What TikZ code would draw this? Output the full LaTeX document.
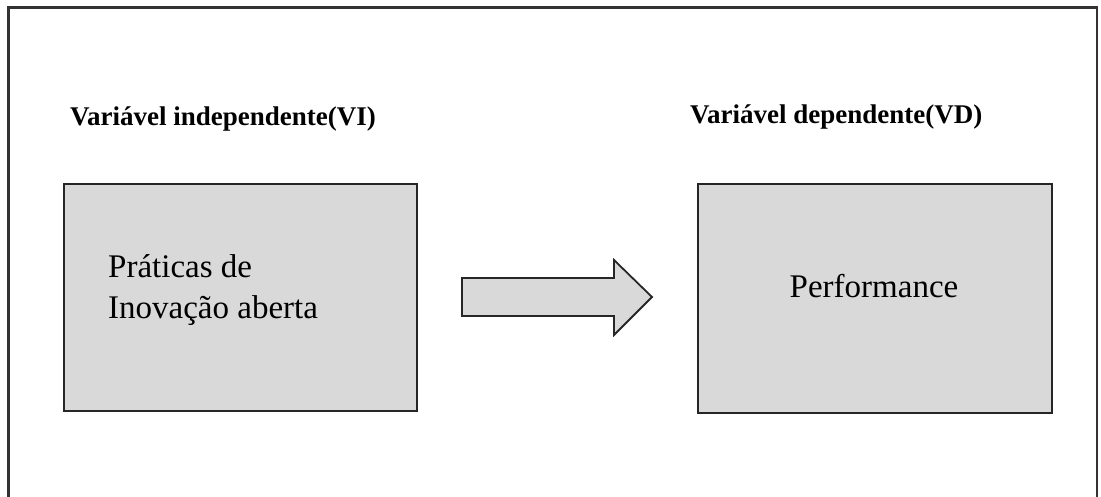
\documentclass[tikz,border=0pt]{standalone}
\usepackage{fontspec}
\setmainfont{Liberation Serif}
\begin{document}
\begin{tikzpicture}[x=1pt,y=-1pt,
  boxstyle/.style={draw=black!85,line width=2.2pt,fill=gray!30,minimum width=353pt,minimum height=227pt,inner sep=0pt,anchor=north west},
  headstyle/.style={font=\fontsize{27}{32}\selectfont\bfseries,anchor=base west,inner sep=0pt},
  bodystyle/.style={font=\fontsize{33}{40}\selectfont,inner sep=0pt}]
\useasboundingbox (0,0) rectangle (1101,497);
\draw[black!80,line width=2.2pt] (8.5,520) -- (8.5,7.5) -- (1097,7.5) -- (1097,520);
\node[headstyle] (vi) at (70,126) {Variável independente(VI)};
\node[headstyle] (vd) at (690,124) {Variável dependente(VD)};
\node[boxstyle] (left) at (63,183) {};
\node[boxstyle,minimum width=354pt,minimum height=229pt] (right) at (697,183) {};
\node[bodystyle,anchor=base west,align=left] (lt) at (108,278) {Práticas de};
\node[bodystyle,anchor=base west,align=left] (lt2) at (108,318) {Inovação aberta};
\node[bodystyle,anchor=base] (rt) at (874,298) {Performance};
\draw[black!85,line width=1.8pt,fill=gray!30,line join=miter]
  (462,278) -- (614,278) -- (614,260) -- (652,297) -- (614,335) -- (614,316) -- (462,316) -- cycle;
\end{tikzpicture}
\end{document}
